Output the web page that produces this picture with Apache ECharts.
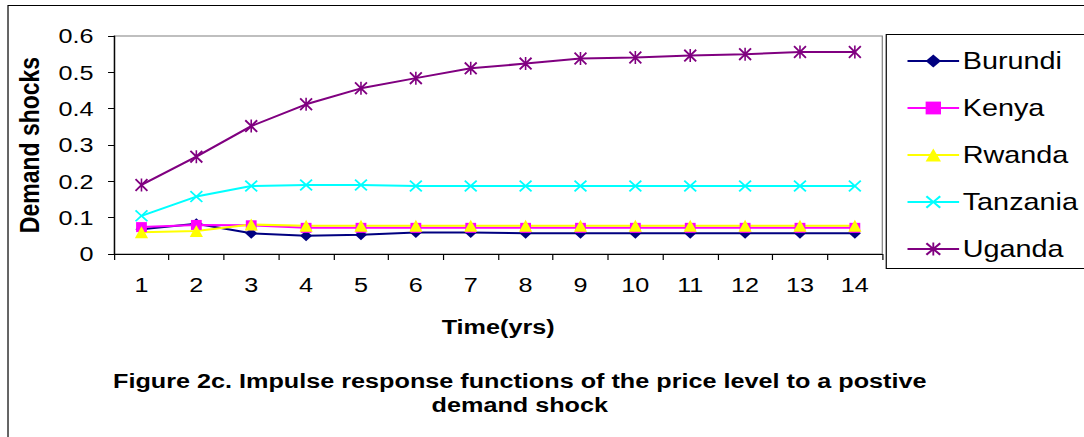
<!DOCTYPE html>
<html>
<head>
<meta charset="utf-8">
<script src="https://cdn.jsdelivr.net/npm/echarts@6/dist/echarts.min.js"></script>
<style>
html,body{margin:0;padding:0;background:#fff;overflow:hidden;width:1084px;height:437px;}
#chart{width:903px;height:437px;transform:scaleX(1.2004);transform-origin:0 0;}
</style>
</head>
<body>
<div id="chart"></div>
<script>
// ---- data ----
const categories = ['1','2','3','4','5','6','7','8','9','10','11','12','13','14'];
const burundi  = [0.068,0.083,0.057,0.050,0.053,0.059,0.059,0.057,0.057,0.057,0.057,0.057,0.057,0.057];
const kenya    = [0.074,0.080,0.079,0.072,0.072,0.072,0.072,0.072,0.072,0.072,0.072,0.072,0.072,0.072];
const rwanda   = [0.060,0.063,0.081,0.078,0.078,0.078,0.078,0.078,0.078,0.078,0.078,0.078,0.078,0.078];
const tanzania = [0.105,0.158,0.187,0.190,0.190,0.187,0.187,0.187,0.187,0.187,0.187,0.187,0.187,0.187];
const uganda   = [0.190,0.268,0.352,0.412,0.456,0.484,0.511,0.524,0.538,0.541,0.546,0.550,0.556,0.556];
const seriesNames = ['Burundi','Kenya','Rwanda','Tanzania','Uganda'];
const yTicks = {min:0, max:0.6, interval:0.1};
const xName = 'Time(yrs)';
const yName = 'Demand shocks';
const titleText = 'Figure 2c. Impulse response functions of the price level to a postive\ndemand shock';

// ---- styling ----
const FONT = "'Liberation Sans', Arial, sans-serif";
const crossPath = 'path://M0,1L1,0L5,4L9,0L10,1L6,5L10,9L9,10L5,6L1,10L0,9L4,5Z';
const starPath = 'path://M0,1L1,0L5,4L9,0L10,1L6,5L10,9L9,10L5,6L1,10L0,9L4,5ZM4.4,0L5.6,0L5.6,10L4.4,10Z';

const styles = [
  {color:'#000080', symbol:'diamond', size:[10,11]},
  {color:'#FF00FF', symbol:'rect', size:[9,10]},
  {color:'#FFFF00', symbol:'triangle', size:[11,12]},
  {color:'#00FFFF', symbol:crossPath, size:[11,12]},
  {color:'#800080', symbol:starPath, size:[11,13]}
];
const values = [burundi, kenya, rwanda, tanzania, uganda];

const chart = echarts.init(document.getElementById('chart'), null, {renderer:'svg'});
chart.setOption({
  animation:false,
  backgroundColor:'#fff',
  textStyle:{fontFamily:FONT},
  grid:{left:95, top:36, width:640, height:218, show:true, borderColor:'#808080', borderWidth:1, backgroundColor:'transparent'},
  xAxis:{
    type:'category', data:categories, boundaryGap:true,
    name:xName, nameLocation:'middle', nameGap:62,
    nameTextStyle:{fontSize:21, fontWeight:'bold', color:'#000', fontFamily:FONT},
    axisLine:{lineStyle:{color:'#000', width:1}},
    axisTick:{show:true, length:6, lineStyle:{color:'#000'}},
    axisLabel:{fontSize:21, color:'#000', margin:20, fontFamily:FONT},
    splitLine:{show:false}
  },
  yAxis:{
    type:'value', min:yTicks.min, max:yTicks.max, interval:yTicks.interval,
    name:yName, nameLocation:'middle', nameGap:59,
    nameTextStyle:{fontSize:23, fontWeight:'bold', color:'#000', fontFamily:FONT},
    axisLine:{show:true, lineStyle:{color:'#000', width:1}},
    axisTick:{show:true, length:5, lineStyle:{color:'#000'}},
    axisLabel:{fontSize:21, color:'#000', margin:17, fontFamily:FONT},
    splitLine:{show:false}
  },
  legend:{
    orient:'vertical', left:750, top:44, itemWidth:43, itemHeight:16, itemGap:23,
    data:seriesNames,
    textStyle:{fontSize:24, color:'#000', fontFamily:FONT, lineHeight:24, padding:[0,0,0,-2]}
  },
  graphic:[
    {type:'rect', shape:{x:6.67, y:5.5, width:1200, height:600}, style:{fill:'none', stroke:'#000', lineWidth:1}, silent:true},
    {type:'rect', shape:{x:738.3, y:34.5, width:400, height:234}, style:{fill:'none', stroke:'#000', lineWidth:1}, silent:true},
    {type:'text', x:433, y:369, style:{text:titleText, font:"bold 21px "+FONT, textAlign:'center', textVerticalAlign:'top', lineHeight:24, fill:'#000'}, silent:true}
  ],
  series: seriesNames.map((n,i)=>({
    name:n, type:'line', data:values[i],
    symbol:styles[i].symbol, symbolSize:styles[i].size,
    showAllSymbol:true,
    itemStyle:{color:styles[i].color},
    lineStyle:{color:styles[i].color, width:2},
    emphasis:{disabled:true}
  }))
});
</script>
</body>
</html>
